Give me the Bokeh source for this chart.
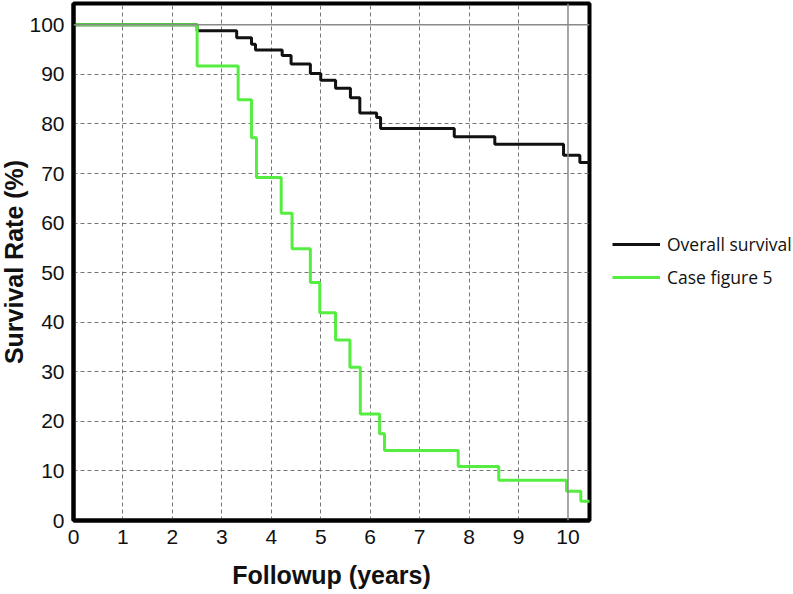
from bokeh.plotting import figure
from bokeh.models import Span, FixedTicker, Legend, LegendItem, Range1d
from bokeh.layouts import row
from bokeh.embed import file_html
from bokeh.resources import INLINE

# Overall survival (Kaplan-Meier steps)
overall_years = [0, 2.50, 3.30, 3.60, 3.68, 4.22, 4.40, 4.79, 5.00, 5.30, 5.60, 5.79,
                 6.13, 6.21, 7.70, 8.52, 9.91, 10.24, 10.45]
overall_rate = [100, 98.8, 97.4, 96.1, 94.9, 93.8, 92.1, 90.2, 88.8, 87.2, 85.3, 82.2,
                81.3, 79.1, 77.4, 75.9, 73.7, 72.2, 72.2]

# Case figure 5
case_years = [0, 2.50, 3.33, 3.60, 3.70, 4.20, 4.42, 4.79, 4.98, 5.30, 5.59, 5.80,
              6.19, 6.29, 7.78, 8.60, 9.97, 10.26, 10.45]
case_rate = [100, 91.7, 84.9, 77.2, 69.2, 62.0, 54.8, 48.0, 41.9, 36.4, 30.9, 21.5,
             17.5, 14.1, 10.9, 8.1, 5.9, 3.9, 3.9]

x_ticks = list(range(0, 11))
y_ticks = list(range(0, 101, 10))
x_grid = list(range(1, 10))
y_grid = list(range(10, 100, 10))
series_names = ["Overall survival", "Case figure 5"]
series_colors = ["#111111", "#55ee40"]

p = figure(width=605, height=594,
           x_range=Range1d(0, 10.435), y_range=Range1d(0, 104.3),
           output_backend="svg", toolbar_location=None,
           min_border_left=85, min_border_right=4,
           min_border_top=3, min_border_bottom=74)

p.background_fill_color = "white"
p.border_fill_color = "white"
p.outline_line_color = "black"
p.outline_line_width = 4

p.xaxis.axis_label = "Followup (years)"
p.yaxis.axis_label = "Survival Rate (%)"
p.xaxis.ticker = FixedTicker(ticks=x_ticks)
p.yaxis.ticker = FixedTicker(ticks=y_ticks)
for ax in (p.xaxis, p.yaxis):
    ax.axis_line_color = "black"
    ax.axis_line_width = 4
    ax.major_tick_line_color = None
    ax.minor_tick_line_color = None
    ax.major_tick_out = 0
    ax.major_tick_in = 0
    ax.major_label_text_font = "Liberation Sans"
    ax.major_label_text_font_size = "21px"
    ax.major_label_text_color = "#111111"
    ax.axis_label_text_font = "Liberation Sans"
    ax.axis_label_text_font_size = "25px"
    ax.axis_label_text_font_style = "bold"
    ax.axis_label_text_color = "#111111"
p.xaxis.major_label_standoff = 9
p.yaxis.major_label_standoff = 9
p.xaxis.axis_label_standoff = 14
p.yaxis.axis_label_standoff = -2

p.xgrid.ticker = FixedTicker(ticks=x_grid)
p.ygrid.ticker = FixedTicker(ticks=y_grid)
for g in (p.xgrid, p.ygrid):
    g.grid_line_color = "#777777"
    g.grid_line_width = 1
    g.grid_line_dash = "4 3"

p.add_layout(Span(location=10, dimension="height", line_color="#8a8a8a", line_width=1.5))
p.add_layout(Span(location=100, dimension="width", line_color="#8a8a8a", line_width=1.5))

p.step(overall_years, overall_rate, mode="after", line_color=series_colors[0], line_width=3)
p.step(case_years, case_rate, mode="after", line_color=series_colors[1], line_width=3)

# legend panel (separate figure to the right of the plot)
nan = float("nan")
lg = figure(width=200, height=594, x_range=Range1d(0, 1), y_range=Range1d(0, 1),
            output_backend="svg", toolbar_location=None,
            x_axis_location=None, y_axis_location=None,
            min_border_left=0, min_border_right=0, min_border_top=3, min_border_bottom=74)
lg.outline_line_color = None
lg.xgrid.visible = False
lg.ygrid.visible = False
lr1 = lg.line([nan], [nan], line_color=series_colors[0], line_width=3)
lr2 = lg.line([nan], [nan], line_color=series_colors[1], line_width=3)
legend = Legend(items=[LegendItem(label=series_names[0], renderers=[lr1]),
                       LegendItem(label=series_names[1], renderers=[lr2])],
                location=(19, 228), padding=0, margin=0,
                border_line_color=None, background_fill_alpha=0,
                glyph_width=48, glyph_height=30, label_height=30, spacing=3,
                label_standoff=7, label_text_font="Open Sans",
                label_text_font_size="17.5px", label_text_color="#111111")
lg.add_layout(legend)

layout = row(p, lg, spacing=0)
layout.styles = {"margin-left": "-12px"}

open("out.html", "w").write(file_html(layout, INLINE))
